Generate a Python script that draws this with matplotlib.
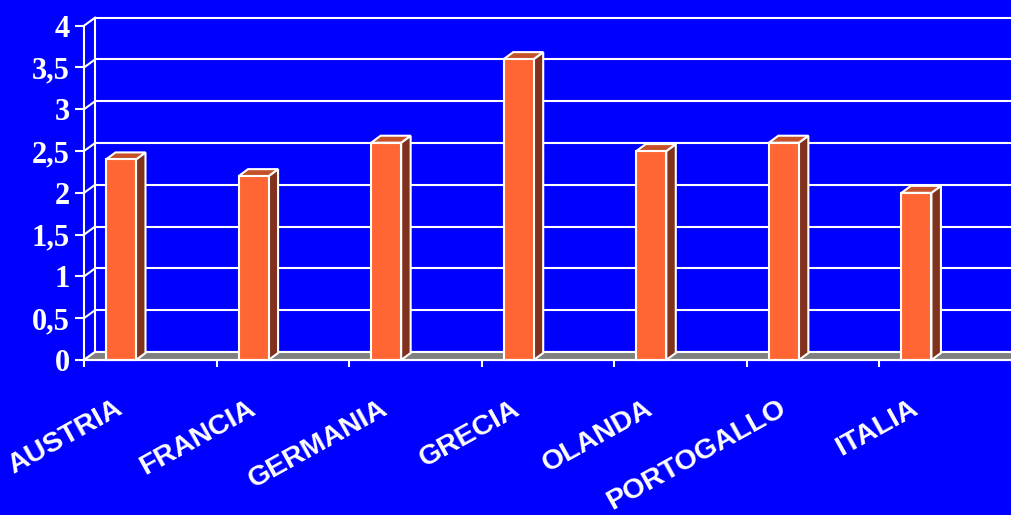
import matplotlib
matplotlib.use("Agg")
import matplotlib.pyplot as plt
from matplotlib.patches import Polygon, Rectangle
from matplotlib.transforms import ScaledTranslation

# Data
countries = ["AUSTRIA", "FRANCIA", "GERMANIA", "GRECIA", "OLANDA", "PORTOGALLO", "ITALIA"]
values = [2.4, 2.2, 2.6, 3.6, 2.5, 2.6, 2.0]
y_ticks = [0, 0.5, 1, 1.5, 2, 2.5, 3, 3.5, 4]
y_tick_labels = ["0", "0,5", "1", "1,5", "2", "2,5", "3", "3,5", "4"]

# Style
BG = "#0000FF"
FRONT = "#FF6633"
TOP = "#C4512A"
SIDE = "#80321C"
FLOOR = "#808080"
WHITE = "white"
DPI = 100
W, H = 1012, 515

fig = plt.figure(figsize=(W / DPI, H / DPI), dpi=DPI, facecolor=BG)
ax = fig.add_axes([84 / W, (H - 360) / H, (W - 84) / W, (360 - 25.7) / H])
ax.set_facecolor("none")
n = len(countries)
ax.set_xlim(0, n)
ax.set_ylim(0, 4)

# convert pixel depths into data units
px_x = ax.bbox.width / n
px_y = ax.bbox.height / 4.0
wall_dx, wall_dy = 11 / px_x, 8 / px_y
bar_dx, bar_dy = 9.5 / px_x, 7 / px_y
bar_off, bar_w = 22 / px_x, 30 / px_x

lw = 1.5

# back wall gridlines and left wall edges
for v in y_ticks:
    ax.plot([wall_dx, n + wall_dx + 1], [v + wall_dy, v + wall_dy], color=WHITE, lw=lw,
            clip_on=False, zorder=1, solid_capstyle="butt")
    ax.plot([0, wall_dx], [v, v + wall_dy], color=WHITE, lw=lw, clip_on=False, zorder=1)
ax.plot([wall_dx, wall_dx], [wall_dy, 4 + wall_dy], color=WHITE, lw=lw, clip_on=False, zorder=1)

# floor
floor = Polygon([[0, 0], [n + 1, 0], [n + 1 + wall_dx, wall_dy], [wall_dx, wall_dy]],
                closed=True, facecolor=FLOOR, edgecolor=WHITE, lw=lw, clip_on=False, zorder=2)
ax.add_patch(floor)

# 3D bars
for i, v in enumerate(values):
    x0 = i + bar_off
    x1 = x0 + bar_w
    side = Polygon([[x1, 0], [x1 + bar_dx, bar_dy], [x1 + bar_dx, v + bar_dy], [x1, v]],
                   closed=True, facecolor=SIDE, edgecolor=WHITE, lw=lw, zorder=3,
                   joinstyle="miter")
    top = Polygon([[x0, v], [x1, v], [x1 + bar_dx, v + bar_dy], [x0 + bar_dx, v + bar_dy]],
                  closed=True, facecolor=TOP, edgecolor=WHITE, lw=lw, zorder=3,
                  joinstyle="miter")
    front = Rectangle((x0, 0), bar_w, v, facecolor=FRONT, edgecolor=WHITE, lw=lw, zorder=4,
                      joinstyle="miter")
    for p in (side, top, front):
        p.set_clip_on(False)
        ax.add_patch(p)

# axes lines and ticks
for s in ("top", "right"):
    ax.spines[s].set_visible(False)
for s in ("left", "bottom"):
    ax.spines[s].set_color(WHITE)
    ax.spines[s].set_linewidth(lw)
    ax.spines[s].set_zorder(5)

ax.set_yticks(y_ticks)
ax.set_yticklabels(y_tick_labels)
ax.set_xticks(range(n + 1))
ax.set_xticklabels([])
ax.tick_params(axis="y", colors=WHITE, length=6.5, width=lw, pad=3.5)
ax.tick_params(axis="x", colors=WHITE, length=5, width=lw)
for lab in ax.get_yticklabels():
    lab.set_fontfamily("Liberation Serif")
    lab.set_fontweight("bold")
    lab.set_fontsize(22)
    lab.set_color(WHITE)

# rotated category labels
for i, name in enumerate(countries):
    tr = ax.transData + ScaledTranslation(-26 / DPI, -53 / DPI, fig.dpi_scale_trans)
    ax.text(i + 0.5, 0, name, transform=tr, ha="right", va="baseline",
            rotation=29, rotation_mode="anchor", color=WHITE,
            fontfamily="Liberation Sans", fontweight="bold", fontsize=20.5, clip_on=False)

fig.savefig("out.png", dpi=DPI, facecolor=BG)
